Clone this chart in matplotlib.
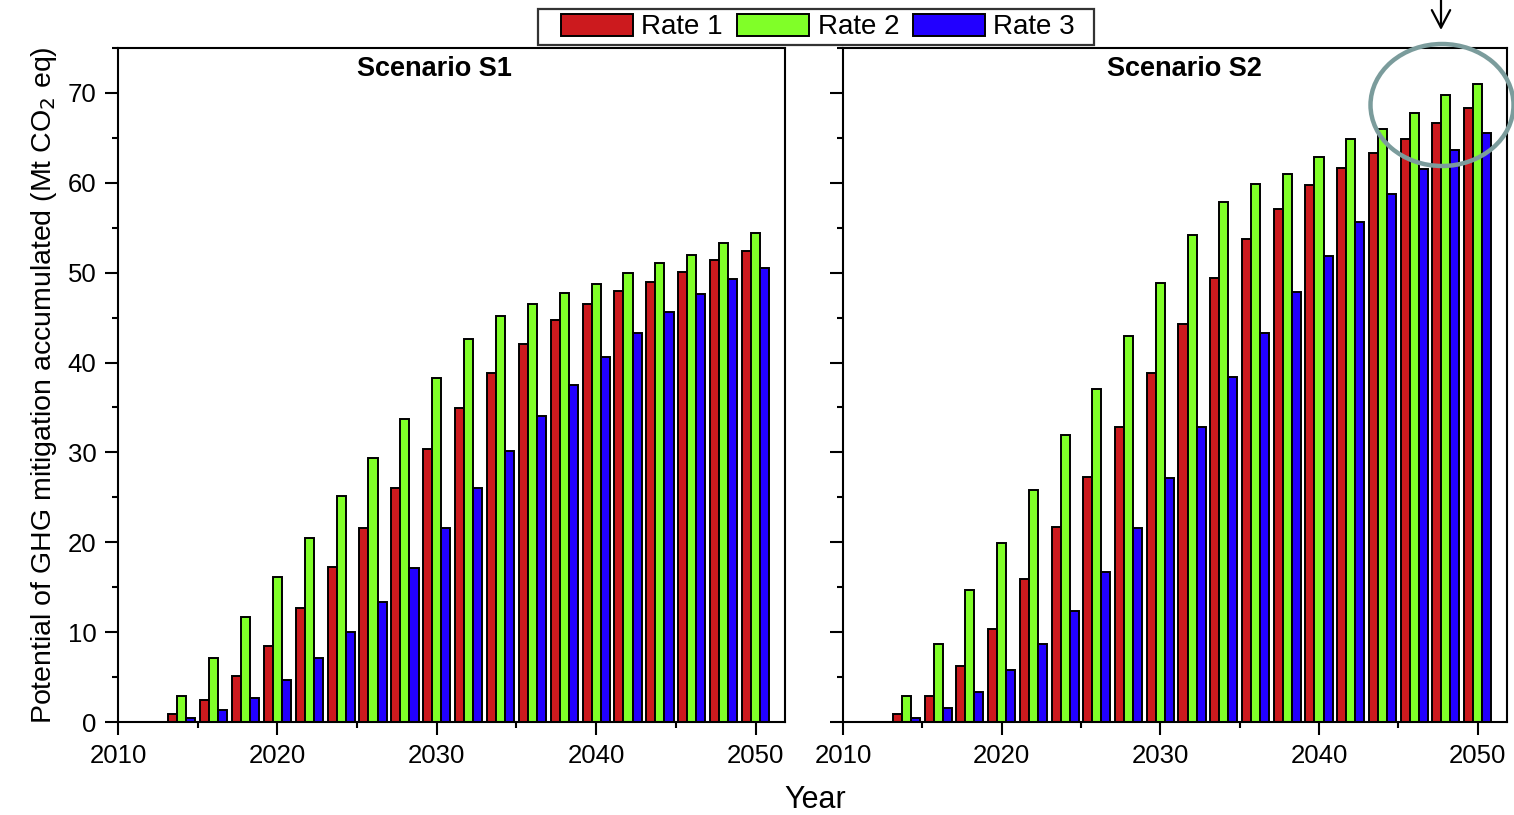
import matplotlib.pyplot as plt
from matplotlib.patches import Ellipse, Rectangle
from matplotlib.ticker import MultipleLocator
import numpy as np

plt.rcParams['font.family'] = ['Liberation Sans', 'DejaVu Sans']

years = [2014, 2016, 2018, 2020, 2022, 2024, 2026, 2028, 2030, 2032,
         2034, 2036, 2038, 2040, 2042, 2044, 2046, 2048, 2050]

# Scenario S1 (Mt CO2 eq, accumulated)
s1_rate1 = [0.85, 2.5, 5.1, 8.5, 12.7, 17.2, 21.6, 26.0, 30.4, 34.9,
            38.8, 42.1, 44.7, 46.5, 48.0, 49.0, 50.1, 51.4, 52.4]
s1_rate2 = [2.85, 7.1, 11.7, 16.1, 20.5, 25.1, 29.4, 33.7, 38.3, 42.6,
            45.2, 46.5, 47.7, 48.7, 50.0, 51.1, 52.0, 53.3, 54.4]
s1_rate3 = [0.45, 1.35, 2.7, 4.7, 7.1, 10.0, 13.3, 17.1, 21.6, 26.0,
            30.2, 34.0, 37.5, 40.6, 43.3, 45.6, 47.6, 49.3, 50.5]

# Scenario S2
s2_rate1 = [0.85, 2.85, 6.2, 10.4, 15.9, 21.7, 27.3, 32.8, 38.8, 44.3,
            49.4, 53.8, 57.1, 59.8, 61.7, 63.3, 64.9, 66.7, 68.3]
s2_rate2 = [2.85, 8.7, 14.7, 19.9, 25.8, 31.9, 37.0, 42.9, 48.9, 54.2,
            57.9, 59.9, 61.0, 62.9, 64.9, 66.0, 67.8, 69.8, 71.0]
s2_rate3 = [0.45, 1.6, 3.3, 5.8, 8.7, 12.4, 16.7, 21.6, 27.2, 32.8,
            38.4, 43.3, 47.8, 51.9, 55.6, 58.7, 61.5, 63.7, 65.5]

rate_labels = ['Rate 1', 'Rate 2', 'Rate 3']
rate_colors = ['#cc1a1e', '#80ff28', '#2200ff']

scenarios = [
    ('Scenario S1', [s1_rate1, s1_rate2, s1_rate3], 0.475),
    ('Scenario S2', [s2_rate1, s2_rate2, s2_rate3], 0.514),
]

W, H = 1514, 815
fig = plt.figure(figsize=(W / 100, H / 100), dpi=100)
ax1 = fig.add_axes([118 / W, 1 - 722 / H, 667 / W, 674 / H])
ax2 = fig.add_axes([843 / W, 1 - 722 / H, 664 / W, 674 / H])

width = 0.57
x = np.array(years)
for ax, (title, series, tx) in zip([ax1, ax2], scenarios):
    bars = []
    for k, (vals, color) in enumerate(zip(series, rate_colors)):
        b = ax.bar(x + (k - 1) * width, vals, width=width, color=color,
                   edgecolor='black', linewidth=1.4, zorder=2)
        bars.append(b)
    ax.set_xlim(2010, 2051.85)
    ax.set_ylim(0, 75)
    ax.xaxis.set_major_locator(MultipleLocator(10))
    ax.xaxis.set_minor_locator(MultipleLocator(5))
    ax.yaxis.set_major_locator(MultipleLocator(10))
    ax.yaxis.set_minor_locator(MultipleLocator(5))
    ax.tick_params(which='major', direction='out', length=9.5, width=1.5,
                   labelsize=18.5, pad=6)
    ax.tick_params(which='minor', direction='out', length=4.5, width=1.5)
    ax.tick_params(top=False, right=False)
    for sp in ax.spines.values():
        sp.set_linewidth(1.5)
    ax.text(tx, 0.988, title, transform=ax.transAxes, ha='center', va='top',
            fontsize=19.5, fontweight='bold')

ax2.tick_params(labelleft=False)
ax1.set_ylabel('Potential of GHG mitigation accumulated (Mt CO$_2$ eq)',
               fontsize=20.5, labelpad=6)
fig.text(815 / W, 1 - 800 / H, 'Year', ha='center', va='center', fontsize=22)

# legend entries, with a box drawn around them
fig.legend(bars, rate_labels, loc='center', bbox_to_anchor=(818 / W, 1 - 27 / H),
           ncol=3, fontsize=20, frameon=False,
           handlelength=2.6, handleheight=0.85, handletextpad=0.3,
           columnspacing=0.5, borderpad=0.1, borderaxespad=0)
fig.patches.append(Rectangle((538 / W, 1 - 45 / H), 556 / W, 36 / H,
                             transform=fig.transFigure, fill=False,
                             edgecolor='#333333', linewidth=1.6))

# highlight around the last S2 groups
ring = Ellipse((1442 / W, 1 - 105 / H), 143 / W, 122 / H,
               transform=fig.transFigure, fill=False, edgecolor='#7b9c9c',
               linewidth=3.2, zorder=10)
fig.patches.append(ring)
ax2.annotate('', xy=(1441 / W, 1 - 30 / H), xycoords='figure fraction',
             xytext=(1441 / W, 1.0), textcoords='figure fraction',
             arrowprops=dict(arrowstyle='->,head_width=0.22,head_length=0.42',
                             color='black', lw=1.6, mutation_scale=30,
                             shrinkA=0, shrinkB=0),
             annotation_clip=False)

fig.savefig('out.png', dpi=100)
